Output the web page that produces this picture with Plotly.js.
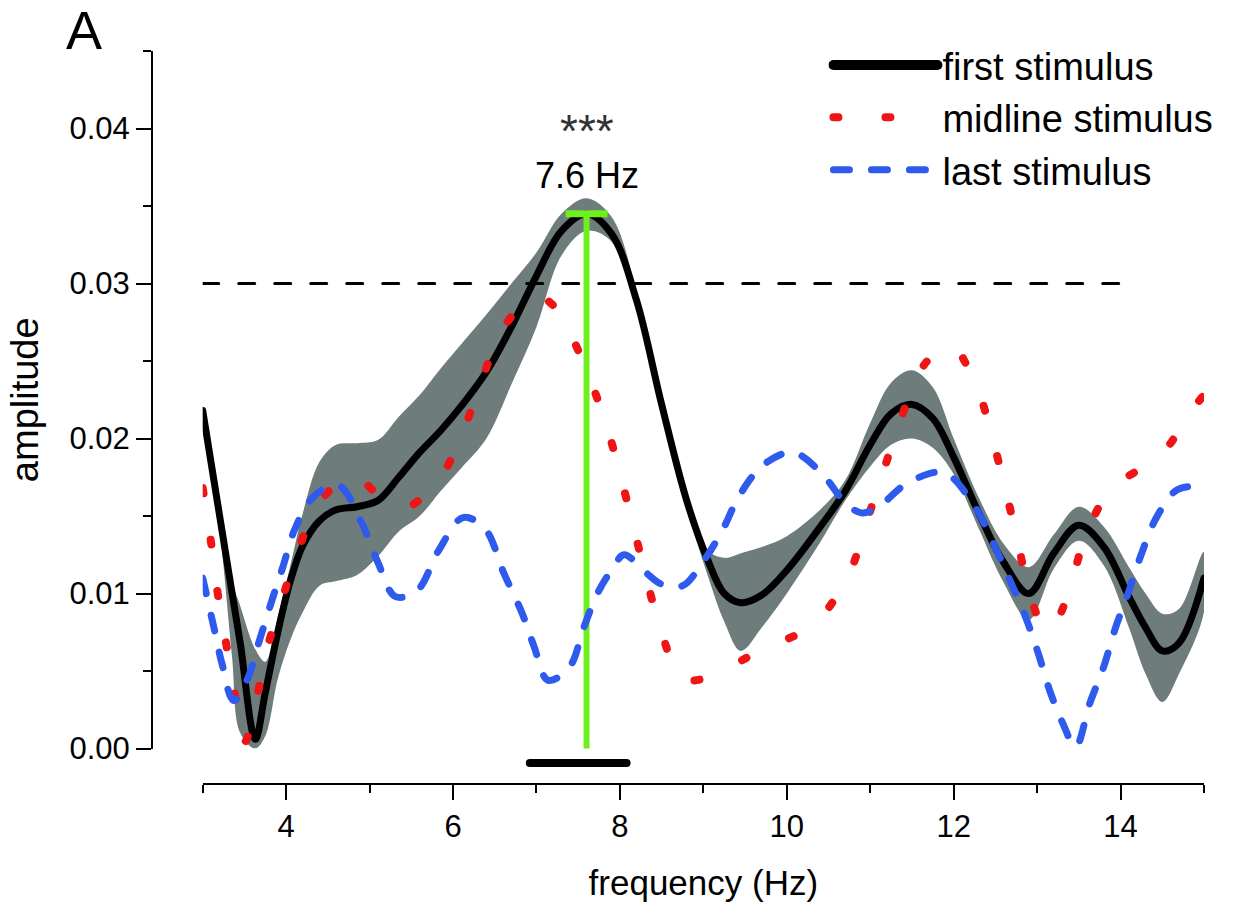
<!DOCTYPE html>
<html>
<head>
<meta charset="utf-8">
<script src="https://cdn.plot.ly/plotly-3.0.1.min.js"></script>
<style>
html,body{margin:0;padding:0;background:#fff;}
#chart{width:1243px;height:903px;}
#chart path.js-line{stroke-linecap:round;}
#chart .shapelayer path{stroke-linecap:round;}
#chart .legend .traces:first-child .legendlines path{stroke-width:10px !important;}
</style>
</head>
<body>
<div id="chart"></div>
<script>
// ---- data ----
// first stimulus (mean) and its shaded error band
const bandFreq = [3.0,3.2,3.35,3.45,3.63,3.75,3.9,4.05,4.2,4.4,4.6,4.85,5.1,5.35,5.6,5.85,6.1,6.4,6.7,7.0,7.3,7.6,7.9,8.2,8.5,8.8,9.05,9.25,9.45,9.7,10.0,10.4,10.7,11.0,11.25,11.5,11.75,12.0,12.3,12.6,12.9,13.2,13.5,13.8,14.1,14.3,14.5,14.7,15.0];
const firstAmp = [0.0218,0.0151,0.0101,0.0068,0.0006,0.0036,0.0075,0.0108,0.0131,0.0147,0.0154,0.0156,0.0160,0.0175,0.0191,0.0205,0.0221,0.0243,0.0272,0.0305,0.0334,0.0345,0.0332,0.0289,0.0222,0.0160,0.0122,0.0100,0.0094,0.0099,0.0115,0.0143,0.0166,0.0196,0.0216,0.0222,0.0213,0.0188,0.0152,0.0120,0.0100,0.0126,0.0144,0.0130,0.0098,0.0078,0.0063,0.0068,0.0110];
const bandUpper = [0.0222,0.0157,0.0108,0.0092,0.0064,0.0056,0.0085,0.0118,0.0152,0.0185,0.0196,0.0197,0.0199,0.0214,0.0228,0.0245,0.0261,0.0280,0.0300,0.0320,0.0345,0.0355,0.0343,0.0295,0.0227,0.0165,0.0128,0.0123,0.0126,0.0130,0.0137,0.0154,0.0173,0.0210,0.0236,0.0244,0.0233,0.0200,0.0162,0.0132,0.0117,0.0138,0.0156,0.0143,0.0117,0.0100,0.0087,0.0090,0.0127];
const bandLower = [0.0214,0.0142,0.0060,0.0010,0.0000,0.0008,0.0045,0.0070,0.0088,0.0105,0.0108,0.0112,0.0124,0.0140,0.0150,0.0166,0.0181,0.0200,0.0235,0.0272,0.0318,0.0334,0.0327,0.0284,0.0217,0.0155,0.0112,0.0082,0.0063,0.0078,0.0100,0.0133,0.0160,0.0182,0.0196,0.0200,0.0194,0.0177,0.0142,0.0107,0.0083,0.0116,0.0134,0.0118,0.0078,0.0048,0.0030,0.0048,0.0088];

// midline stimulus
const midFreq = [3.0,3.1,3.18,3.28,3.38,3.5,3.64,3.77,3.95,4.14,4.36,4.6,4.84,5.1,5.44,5.65,5.9,6.16,6.36,6.59,6.85,7.05,7.25,7.44,7.68,7.88,8.04,8.19,8.34,8.51,8.74,9.0,9.21,9.5,9.75,10.02,10.25,10.46,10.65,10.79,10.98,11.17,11.37,11.58,11.8,12.0,12.15,12.31,12.48,12.63,12.77,12.91,13.11,13.25,13.4,13.58,13.85,14.1,14.36,14.6,14.76,15.0];
const midAmp = [0.0168,0.0133,0.0100,0.0068,0.0036,0.0004,0.0031,0.0064,0.0096,0.0127,0.0156,0.0170,0.0175,0.0164,0.0156,0.0163,0.0179,0.0210,0.0240,0.0270,0.0287,0.0291,0.0283,0.0264,0.0233,0.0201,0.0169,0.0137,0.0105,0.0073,0.0045,0.0045,0.0050,0.0058,0.0065,0.0071,0.0077,0.0088,0.0103,0.0118,0.0150,0.0181,0.0213,0.0242,0.0256,0.0259,0.0248,0.0229,0.0197,0.0165,0.0133,0.0100,0.0076,0.0084,0.0105,0.0137,0.0165,0.0176,0.0184,0.0197,0.0212,0.0228];

// last stimulus
const lastFreq = [3.0,3.13,3.23,3.37,3.53,3.67,3.82,3.96,4.1,4.32,4.62,4.91,5.1,5.31,5.57,5.83,6.12,6.38,6.61,6.83,6.97,7.14,7.4,7.56,7.73,7.91,8.05,8.3,8.5,8.75,8.99,9.23,9.43,9.72,10.07,10.41,10.71,10.9,11.1,11.44,11.88,12.23,12.47,12.67,12.86,13.01,13.16,13.31,13.46,13.63,13.8,13.94,14.09,14.24,14.43,14.68,14.98];
const lastAmp = [0.0110,0.0079,0.0055,0.0031,0.0044,0.0068,0.0094,0.0117,0.0141,0.0162,0.0170,0.0145,0.0120,0.0098,0.0102,0.0128,0.0149,0.0142,0.0113,0.0087,0.0066,0.0044,0.0053,0.0077,0.0100,0.0116,0.0125,0.0114,0.0106,0.0105,0.0120,0.0141,0.0163,0.0183,0.0191,0.0178,0.0158,0.0152,0.0156,0.0171,0.0178,0.0158,0.0133,0.0109,0.0085,0.0062,0.0036,0.0016,0.0001,0.0029,0.0053,0.0078,0.0100,0.0124,0.0149,0.0167,0.0169];

// reference markers
const thresholdAmp = 0.030;
const thresholdFreq = [3, 14];
const peakFreq = 7.6;
const peakAmp = 0.0345;
const sigFreq = [6.92, 8.08];
const seriesNames = ['first stimulus', 'midline stimulus', 'last stimulus'];
const xTicks = [4, 6, 8, 10, 12, 14];
const yTicks = [0.00, 0.01, 0.02, 0.03, 0.04];

// ---- traces ----
const FONT = 'Liberation Sans, Arial, Helvetica, sans-serif';
const GREEN = '#6EF01E';
const bandX = bandFreq.concat(bandFreq.slice().reverse());
const bandY = bandUpper.concat(bandLower.slice().reverse());

const traces = [
  {x: bandX, y: bandY, type: 'scatter', mode: 'lines', fill: 'toself',
   fillcolor: '#6E7C7B', line: {width: 0, shape: 'spline', color: '#6E7C7B'},
   showlegend: false, hoverinfo: 'skip'},
  {x: thresholdFreq, y: [thresholdAmp, thresholdAmp], type: 'scatter', mode: 'lines',
   line: {color: '#000', width: 3, dash: '16px,20px'}, showlegend: false, hoverinfo: 'skip'},
  {x: bandFreq, y: firstAmp, type: 'scatter', mode: 'lines', name: seriesNames[0],
   line: {color: '#000', width: 7, shape: 'spline'}},
  {x: [peakFreq, peakFreq], y: [0, peakAmp], type: 'scatter', mode: 'lines',
   line: {color: GREEN, width: 6}, showlegend: false, hoverinfo: 'skip'},
  {x: [peakFreq], y: [peakAmp], type: 'scatter', mode: 'markers',
   marker: {symbol: 'line-ew-open', size: 30, color: GREEN, line: {color: GREEN, width: 7}},
   showlegend: false, hoverinfo: 'skip'},
  {x: midFreq, y: midAmp, type: 'scatter', mode: 'lines', name: seriesNames[1],
   line: {color: '#F01414', width: 8, dash: '5px,47px', shape: 'spline'}},
  {x: lastFreq, y: lastAmp, type: 'scatter', mode: 'lines', name: seriesNames[2],
   line: {color: '#2E5BEE', width: 7, dash: '16px,22px', shape: 'spline'}}
];

const layout = {
  width: 1243, height: 903,
  margin: {l: 152, r: 39, t: 51, b: 119},
  paper_bgcolor: '#fff', plot_bgcolor: 'rgba(0,0,0,0)',
  font: {family: FONT, color: '#000'},
  showlegend: true,
  legend: {x: 0.643, y: 1.0235, xanchor: 'left', yanchor: 'top',
           font: {family: FONT, size: 38, color: '#000'},
           itemwidth: 104, bgcolor: 'rgba(0,0,0,0)', tracegroupgap: 0},
  xaxis: {
    domain: [0.0482, 1], range: [3, 15], anchor: 'free', position: 0,
    showline: true, linecolor: '#000', linewidth: 2, showgrid: false, zeroline: false,
    tickmode: 'array', tickvals: xTicks, ticktext: xTicks.map(String),
    ticks: 'outside', ticklen: 15, tickwidth: 2, tickcolor: '#000',
    minor: {dtick: 1, tick0: 3, ticks: 'outside', ticklen: 8, tickwidth: 2, tickcolor: '#000', showgrid: false},
    tickfont: {family: FONT, size: 31, color: '#000'},
    title: {text: 'frequency (Hz)', font: {family: FONT, size: 35, color: '#000'}, standoff: 26}
  },
  yaxis: {
    domain: [0.0484, 1], range: [0, 0.045], anchor: 'free', position: 0,
    showline: true, linecolor: '#000', linewidth: 2, showgrid: false, zeroline: false,
    tickmode: 'array', tickvals: yTicks, ticktext: yTicks.map(v => v.toFixed(2)),
    ticks: 'outside', ticklen: 15, tickwidth: 2, tickcolor: '#000',
    minor: {dtick: 0.005, tick0: 0, ticks: 'outside', ticklen: 8, tickwidth: 2, tickcolor: '#000', showgrid: false},
    tickfont: {family: FONT, size: 31, color: '#000'},
    title: {text: 'amplitude', font: {family: FONT, size: 38, color: '#000'}, standoff: 18}
  },
  shapes: [
    {type: 'line', xref: 'x', yref: 'paper', x0: sigFreq[0], x1: sigFreq[1], y0: 0.0286, y1: 0.0286,
     line: {color: '#000', width: 8}}
  ],
  annotations: [
    {text: 'A', xref: 'paper', yref: 'paper', x: -0.084, y: 1.029, xanchor: 'left', yanchor: 'middle',
     showarrow: false, font: {family: FONT, size: 54, color: '#000'}},
    {text: '***', xref: 'x', yref: 'y', x: peakFreq, y: 0.03985, xanchor: 'center', yanchor: 'middle',
     showarrow: false, font: {family: FONT, size: 46, color: '#333'}},
    {text: peakFreq.toFixed(1) + ' Hz', xref: 'x', yref: 'y', x: peakFreq, y: 0.03696, xanchor: 'center', yanchor: 'middle',
     showarrow: false, font: {family: FONT, size: 36, color: '#000'}}
  ]
};

Plotly.newPlot('chart', traces, layout, {staticPlot: true, displayModeBar: false});
</script>
</body>
</html>
